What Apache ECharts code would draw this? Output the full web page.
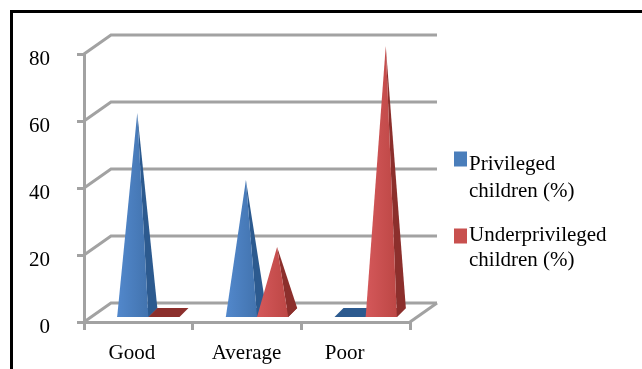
<!DOCTYPE html>
<html>
<head>
<meta charset="utf-8">
<style>
  html, body { margin: 0; background: #fff; }
  #chart { width: 642px; height: 369px; }
</style>
<script src="https://cdn.jsdelivr.net/npm/echarts@6/dist/echarts.min.js"></script>
</head>
<body>
<div id="chart"></div>
<script>
const categories = ['Good', 'Average', 'Poor']
const privileged = [60, 40, 0]
const underprivileged = [0, 20, 80]
const yTicks = [0, 20, 40, 60, 80]

const serif = '"Liberation Serif", serif'
const wallColor = '#a2a2a2'
const blue = '#4a7ebb'
const red = '#c8504e'
const depthX = 27
const depthY = 19

function faceGradient(left, right) {
  return new echarts.graphic.LinearGradient(0, 0, 1, 0, [
    { offset: 0, color: left },
    { offset: 1, color: right }
  ])
}

// back wall and floor, offset from the front axis like excel's 3d charts
function renderWall(params, api) {
  const sys = params.coordSys
  const y = api.coord([0, api.value(0)])[1]
  const lineStyle = { stroke: wallColor, lineWidth: 3, fill: null }
  const children = [{
    type: 'polyline',
    shape: { points: [[sys.x, y], [sys.x + depthX, y - depthY], [sys.x + sys.width + depthX, y - depthY]] },
    style: lineStyle
  }]
  if (api.value(0) === 0) {
    children.push({
      type: 'line',
      shape: { x1: sys.x + sys.width, y1: y, x2: sys.x + sys.width + depthX, y2: y - depthY },
      style: lineStyle
    })
  }
  return { type: 'group', children }
}

function pyramid(side, front, dark) {
  return (params, api) => {
    const center = api.coord([api.value(0), 0])
    const top = api.coord([api.value(0), api.value(1)])
    const barWidth = api.size([1, 0])[0] * 0.287
    const baseY = center[1] - 5
    const x0 = center[0] + 10 + (side < 0 ? -barWidth : 0)
    const x1 = x0 + barWidth
    const apex = [(x0 + x1) / 2 + 4.5, top[1] - 8]
    const children = [{
      type: 'polygon',
      shape: { points: [[x0, baseY], [x1, baseY], [x1 + 9, baseY - 9], [x0 + 9, baseY - 9]] },
      style: { fill: dark }
    }]
    // a zero value is only the flat base
    if (api.value(1) > 0) {
      children.push({
        type: 'polygon',
        shape: { points: [[x1, baseY], [x1 + 9, baseY - 9], apex] },
        style: { fill: dark }
      }, {
        type: 'polygon',
        shape: { points: [[x0, baseY], [x1, baseY], apex] },
        style: { fill: front }
      })
    }
    return { type: 'group', children }
  }
}

// the blank first line pushes the text down so the swatch lines up with line one
function legendText(name) {
  return '{gap| }\n' + name.split('\n').map(line => `{t|${line}}`).join('\n')
}

const legendBase = {
  orient: 'vertical',
  padding: 0,
  left: 454,
  itemWidth: 7,
  itemHeight: 9,
  icon: 'rect',
  formatter: legendText
}

const chart = echarts.init(document.getElementById('chart'))
chart.setOption({
  animation: false,
  backgroundColor: '#fff',
  graphic: [{
    type: 'polyline',
    silent: true,
    shape: { points: [[11.5, 380], [11.5, 11.5], [650, 11.5]] },
    style: { stroke: '#000', lineWidth: 3, fill: null }
  }],
  grid: { left: 84, top: 54, width: 326, height: 268 },
  legend: [
    {
      ...legendBase,
      top: 127,
      data: ['Privileged\nchildren (%)'],
      // wide border so the text can sit closer to the swatch
      itemStyle: { color: blue, borderColor: blue, borderWidth: 6 },
      textStyle: {
        rich: {
          gap: { fontSize: 10, lineHeight: 37 },
          t: { fontFamily: serif, fontSize: 21, color: '#000', lineHeight: 27 }
        }
      }
    },
    {
      ...legendBase,
      top: 206,
      data: ['Underprivileged\nchildren (%)'],
      itemStyle: { color: red, borderColor: red, borderWidth: 6 },
      textStyle: {
        rich: {
          gap: { fontSize: 10, lineHeight: 24 },
          t: { fontFamily: serif, fontSize: 21, color: '#000', lineHeight: 25 }
        }
      }
    }
  ],
  xAxis: {
    type: 'category',
    data: categories,
    axisTick: { show: true, length: 8, alignWithLabel: false, lineStyle: { color: wallColor, width: 3 } },
    axisLine: { lineStyle: { color: wallColor, width: 3 } },
    axisLabel: {
      interval: 0,
      hideOverlap: false,
      margin: 21,
      formatter: v => `{${v.toLowerCase()}|${v}}`,
      rich: {
        good: { fontFamily: serif, fontSize: 21, color: '#000', padding: [0, 13, 0, 0] },
        average: { fontFamily: serif, fontSize: 21, color: '#000', padding: [0, 1, 0, 0] },
        poor: { fontFamily: serif, fontSize: 21, color: '#000', padding: [0, 22, 0, 0] }
      }
    }
  },
  yAxis: {
    type: 'value',
    min: 0,
    max: 80,
    interval: 20,
    splitLine: { show: false },
    axisTick: { show: true, length: 7, lineStyle: { color: wallColor, width: 3 } },
    axisLine: { show: true, lineStyle: { color: wallColor, width: 3 } },
    axisLabel: {
      margin: 34,
      formatter: v => `{v|${v}}`,
      rich: { v: { fontFamily: serif, fontSize: 21, color: '#000', padding: [10, 0, 0, 0] } }
    }
  },
  series: [
    {
      type: 'custom',
      name: 'wall',
      renderItem: renderWall,
      silent: true,
      data: yTicks.map(v => [v])
    },
    {
      type: 'custom',
      name: 'Privileged\nchildren (%)',
      itemStyle: { color: blue },
      renderItem: pyramid(-1, faceGradient('#5288cc', '#4273ae'), '#2c5a8f'),
      data: privileged.map((v, i) => [i, v])
    },
    {
      type: 'custom',
      name: 'Underprivileged\nchildren (%)',
      itemStyle: { color: red },
      renderItem: pyramid(1, faceGradient('#d4585a', '#bd4745'), '#8c2f2c'),
      data: underprivileged.map((v, i) => [i, v])
    }
  ]
})
</script>
</body>
</html>
